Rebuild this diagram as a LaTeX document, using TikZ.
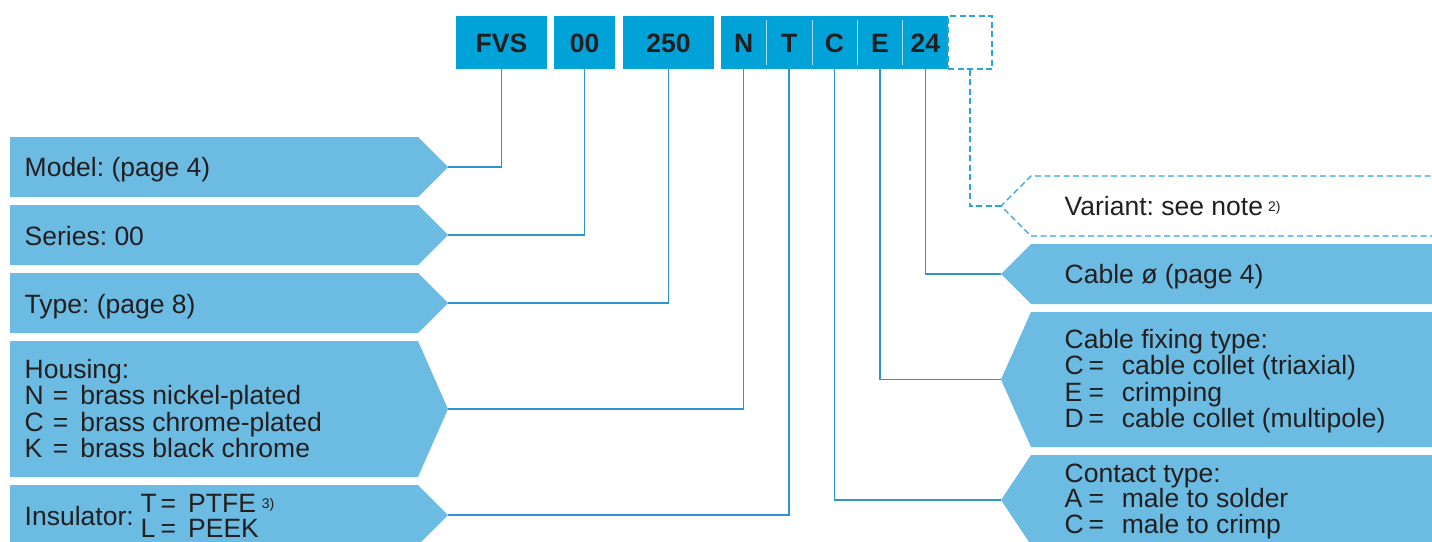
\documentclass[tikz,border=0pt]{standalone}
\usepackage{fontspec}
\setmainfont{Liberation Sans}
\frenchspacing
\definecolor{boxfill}{HTML}{6BBBE3}
\definecolor{codefill}{HTML}{00A2D8}
\definecolor{conncol}{HTML}{2E95CC}
\definecolor{dashcol}{HTML}{2CA5DE}
\definecolor{txt}{HTML}{231F20}
\definecolor{divcol}{HTML}{A6DBF2}
% option line: letter, "=" and text at fixed offsets
\newcommand\optline[4]{\hbox{\rlap{#3}\hspace{#1}\rlap{=}\hspace{#2}#4}}
\newcommand\optL[2]{\optline{28.3pt}{27.3pt}{#1}{#2}}
\newcommand\optR[2]{\optline{24pt}{33.2pt}{#1}{#2}}
\newcommand\optI[2]{\optline{20pt}{27.6pt}{#1}{#2}}
\newcommand\supnote[1]{\raisebox{4pt}{\fontsize{14}{14}\selectfont #1}}
% left pentagon (pointing right): top, bottom, tip name
\newcommand\lbox[3]{\fill[boxfill] (10,#1) -- (418,#1) -- (448,{(#1+#2)/2}) -- (418,#2) -- (10,#2) -- cycle;
  \coordinate (#3) at (448,{(#1+#2)/2});}
% right pentagon (pointing left)
\newcommand\rbox[3]{\fill[boxfill] (1440,#1) -- (1031,#1) -- (1001,{(#1+#2)/2}) -- (1031,#2) -- (1440,#2) -- cycle;
  \coordinate (#3) at (1001,{(#1+#2)/2});}
\begin{document}
\begin{tikzpicture}[x=1pt,y=-1pt,
  codebox/.style={fill=codefill, draw=none, minimum height=53pt, inner sep=0pt, text=txt,
    font=\bfseries\fontsize{26.5}{26.5}\selectfont, text height=19pt, text depth=0pt},
  divider/.style={draw=divcol, line width=1pt},
  conn/.style={draw=conncol, line width=1.4pt},
  dashconn/.style={draw=dashcol, line width=1.3pt, dash pattern=on 6pt off 3.5pt},
  lbl/.style={anchor=base west, inner sep=0pt, text=txt, font=\fontsize{26.5}{26.6}\selectfont}]
\useasboundingbox (0,0) rectangle (1432,541);
% code boxes
\node[codebox, minimum width=91pt] (fvs) at (501.5,42.5) {FVS};
\node[codebox, minimum width=61pt] (ser) at (584.5,42.5) {00};
\node[codebox, minimum width=91pt] (typ) at (668.5,42.5) {250};
\node[codebox, minimum width=45.6pt] (cn) at (743.7,42.5) {N};
\node[codebox, minimum width=45.6pt] (ct) at (789.1,42.5) {T};
\node[codebox, minimum width=45.6pt] (cc) at (834.5,42.5) {C};
\node[codebox, minimum width=45.6pt] (ce) at (879.9,42.5) {E};
\node[codebox, minimum width=45.4pt] (c24) at (925.3,42.5) {24};
\node[draw=dashcol, line width=1.3pt, dash pattern=on 6pt off 3.5pt, minimum width=44pt, minimum height=53pt, inner sep=0pt] (var) at (970,42.5) {};
\foreach \c in {cn,ct,cc,ce}
  \draw[divider] ([yshift=-4pt]\c.north east) -- ([yshift=4pt]\c.south east);
% left boxes
\lbox{137}{197}{modeltip}
\lbox{205}{265}{seriestip}
\lbox{273}{333}{typetip}
\lbox{341}{477}{housingtip}
\lbox{485}{545}{insultip}
% right boxes
\draw[dashconn] (1440,176) -- (1031,176) -- (1001,206) -- (1031,236) -- (1440,236);
\coordinate (vartip) at (1001,206);
\rbox{244}{304}{cabletip}
\rbox{312}{447}{fixtip}
\rbox{455}{545}{contacttip}
% connectors
\draw[conn] (modeltip) -| (fvs.south);
\draw[conn] (seriestip) -| (ser.south);
\draw[conn] (typetip) -| (typ.south);
\draw[conn] (housingtip) -| (cn.south);
\draw[conn] (insultip) -| (ct.south);
\draw[conn] (contacttip) -| (cc.south);
\draw[conn] (fixtip) -| (ce.south);
\draw[conn] (cabletip) -| (c24.south);
\draw[dashconn] (vartip) -| (var.south);
% texts left
\node[lbl] (tmodel) at (24.5,176) {Model: (page 4)};
\node[lbl] (tseries) at (24.5,245) {Series: 00};
\node[lbl] (ttype) at (24.5,313) {Type: (page 8)};
\node[lbl] (thousing) at (24.5,378) {\vtop{\hbox{Housing:}\optL{N}{brass nickel-plated}\optL{C}{brass chrome-plated}\optL{K}{brass black chrome}}};
\node[lbl] (tinsul) at (24.5,525) {Insulator:};
\node[lbl] (tinsulopt) at (140.4,512) {\vtop{\baselineskip=25pt\optI{T}{PTFE\hspace{6pt}\supnote{3)}}\optI{L}{PEEK}}};
% texts right
\node[lbl] (tvar) at (1064.5,215) {Variant: see note\hspace{5pt}\supnote{2)}};
\node[lbl] (tcable) at (1064.5,283) {Cable ø (page 4)};
\node[lbl] (tfix) at (1064.5,348) {\vtop{\hbox{Cable fixing type:}\optR{C}{cable collet (triaxial)}\optR{E}{crimping}\optR{D}{cable collet (multipole)}}};
\node[lbl] (tcontact) at (1064.5,482) {\vtop{\baselineskip=25.7pt\hbox{Contact type:}\optR{A}{male to solder}\optR{C}{male to crimp}}};
\end{tikzpicture}
\end{document}
